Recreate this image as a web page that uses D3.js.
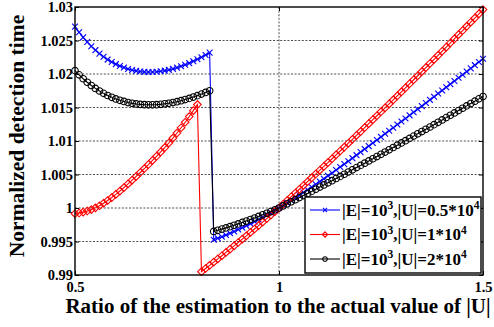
<!DOCTYPE html>
<html>
<head>
<meta charset="utf-8">
<script src="https://cdn.jsdelivr.net/npm/d3@7"></script>
<style>
  body { margin: 0; background: #fff; }
  svg { display: block; }
  text { font-family: "Liberation Serif", "Times New Roman", serif; font-weight: bold; fill: #000; }
</style>
</head>
<body>
<svg id="chart" width="494" height="327"></svg>
<script>
// ratio of estimated |U| to actual |U|
const ratios = [
  0.50, 0.51, 0.52, 0.53, 0.54, 0.55, 0.56, 0.57, 0.58, 0.59,
  0.60, 0.61, 0.62, 0.63, 0.64, 0.65, 0.66, 0.67, 0.68, 0.69,
  0.70, 0.71, 0.72, 0.73, 0.74, 0.75, 0.76, 0.77, 0.78, 0.79,
  0.80, 0.81, 0.82, 0.83, 0.84, 0.85, 0.86, 0.87, 0.88, 0.89,
  0.90, 0.91, 0.92, 0.93, 0.94, 0.95, 0.96, 0.97, 0.98, 0.99,
  1.00, 1.01, 1.02, 1.03, 1.04, 1.05, 1.06, 1.07, 1.08, 1.09,
  1.10, 1.11, 1.12, 1.13, 1.14, 1.15, 1.16, 1.17, 1.18, 1.19,
  1.20, 1.21, 1.22, 1.23, 1.24, 1.25, 1.26, 1.27, 1.28, 1.29,
  1.30, 1.31, 1.32, 1.33, 1.34, 1.35, 1.36, 1.37, 1.38, 1.39,
  1.40, 1.41, 1.42, 1.43, 1.44, 1.45, 1.46, 1.47, 1.48, 1.49,
  1.50
]

// |U| = 0.5*10^4
const timeU05 = [
  1.02707, 1.02623, 1.02547, 1.02477, 1.02413, 1.02356, 1.02304, 1.02257, 1.02215, 1.02179,
  1.02147, 1.02119, 1.02096, 1.02075, 1.02059, 1.02047, 1.02038, 1.02032, 1.02030, 1.02030,
  1.02033, 1.02040, 1.02050, 1.02062, 1.02077, 1.02095, 1.02115, 1.02138, 1.02162, 1.02190,
  1.02219, 1.02250, 1.02284, 1.02319, 0.99525, 0.99548, 0.99572, 0.99597, 0.99623, 0.99650,
  0.99678, 0.99707, 0.99736, 0.99766, 0.99797, 0.99829, 0.99862, 0.99895, 0.99929, 0.99964,
  1.00000, 1.00037, 1.00075, 1.00113, 1.00152, 1.00191, 1.00231, 1.00271, 1.00312, 1.00353,
  1.00395, 1.00437, 1.00480, 1.00523, 1.00567, 1.00611, 1.00655, 1.00699, 1.00744, 1.00789,
  1.00834, 1.00879, 1.00924, 1.00969, 1.01015, 1.01061, 1.01107, 1.01153, 1.01199, 1.01245,
  1.01291, 1.01337, 1.01383, 1.01429, 1.01475, 1.01521, 1.01567, 1.01614, 1.01661, 1.01708,
  1.01755, 1.01802, 1.01849, 1.01896, 1.01943, 1.01990, 1.02037, 1.02084, 1.02132, 1.02180,
  1.02228
]

// |U| = 1*10^4
const timeU1 = [
  0.99915, 0.99925, 0.99938, 0.99955, 0.99976, 1.00002, 1.00034, 1.00071, 1.00112, 1.00156,
  1.00203, 1.00253, 1.00305, 1.00359, 1.00415, 1.00472, 1.00530, 1.00589, 1.00649, 1.00710,
  1.00772, 1.00836, 1.00902, 1.00970, 1.01043, 1.01119, 1.01198, 1.01280, 1.01365, 1.01453,
  1.01544, 0.99050, 0.99097, 0.99144, 0.99192, 0.99240, 0.99288, 0.99337, 0.99386, 0.99435,
  0.99485, 0.99535, 0.99585, 0.99636, 0.99687, 0.99738, 0.99790, 0.99842, 0.99894, 0.99947,
  1.00000, 1.00056, 1.00112, 1.00168, 1.00224, 1.00280, 1.00336, 1.00393, 1.00450, 1.00507,
  1.00564, 1.00621, 1.00678, 1.00735, 1.00793, 1.00851, 1.00909, 1.00967, 1.01025, 1.01083,
  1.01141, 1.01200, 1.01259, 1.01318, 1.01377, 1.01436, 1.01495, 1.01554, 1.01614, 1.01674,
  1.01734, 1.01794, 1.01854, 1.01914, 1.01974, 1.02035, 1.02096, 1.02157, 1.02218, 1.02279,
  1.02340, 1.02401, 1.02463, 1.02525, 1.02587, 1.02649, 1.02711, 1.02773, 1.02835, 1.02898,
  1.02961
]

// |U| = 2*10^4
const timeU2 = [
  1.02050, 1.01987, 1.01929, 1.01877, 1.01828, 1.01785, 1.01746, 1.01711, 1.01679, 1.01652,
  1.01628, 1.01607, 1.01590, 1.01574, 1.01562, 1.01553, 1.01546, 1.01542, 1.01540, 1.01540,
  1.01542, 1.01547, 1.01555, 1.01563, 1.01574, 1.01587, 1.01602, 1.01619, 1.01636, 1.01656,
  1.01677, 1.01700, 1.01725, 1.01750, 0.99650, 0.99667, 0.99685, 0.99703, 0.99722, 0.99742,
  0.99763, 0.99784, 0.99805, 0.99827, 0.99850, 0.99874, 0.99898, 0.99922, 0.99947, 0.99973,
  1.00000, 1.00031, 1.00062, 1.00093, 1.00124, 1.00155, 1.00186, 1.00217, 1.00248, 1.00280,
  1.00312, 1.00344, 1.00376, 1.00408, 1.00440, 1.00472, 1.00504, 1.00537, 1.00570, 1.00603,
  1.00636, 1.00669, 1.00702, 1.00735, 1.00768, 1.00801, 1.00835, 1.00869, 1.00903, 1.00937,
  1.00971, 1.01005, 1.01039, 1.01073, 1.01107, 1.01141, 1.01175, 1.01209, 1.01244, 1.01279,
  1.01314, 1.01349, 1.01384, 1.01419, 1.01454, 1.01489, 1.01524, 1.01559, 1.01594, 1.01629,
  1.01664
]

const legendLabels = ['|E|=10^3,|U|=0.5*10^4', '|E|=10^3,|U|=1*10^4', '|E|=10^3,|U|=2*10^4']
const xTicks = [0.5, 1, 1.5]
const xTickLabels = ['0.5', '1', '1.5']
const yTicks = [0.99, 0.995, 1, 1.005, 1.01, 1.015, 1.02, 1.025, 1.03]
const yTickLabels = ['0.99', '0.995', '1', '1.005', '1.01', '1.015', '1.02', '1.025', '1.03']

const series = [
  { values: timeU05, color: '#0000ff', marker: 'x' },
  { values: timeU1, color: '#ff0000', marker: 'diamond' },
  { values: timeU2, color: '#000000', marker: 'circle' }
]

const markerPath = {
  x: s => `M${-s},${-s}L${s},${s}M${-s},${s}L${s},${-s}`,
  diamond: s => `M0,${-s}L${s},0L0,${s}L${-s},0Z`,
  circle: s => `M${s},0A${s},${s} 0 1,1 ${-s},0A${s},${s} 0 1,1 ${s},0Z`
}
const markerSize = { x: 2.9, diamond: 3.8, circle: 3.3 }

const svg = d3.select('#chart')
const plotL = 75, plotR = 483, plotT = 7, plotB = 275

const x = d3.scaleLinear().domain([0.5, 1.5]).range([plotL, plotR])
const y = d3.scaleLinear().domain([0.99, 1.03]).range([plotB, plotT])

// grid (dotted, inner ticks only)
const grid = svg.append('g').attr('stroke', '#222').attr('stroke-width', 0.8).attr('stroke-dasharray', '2,1.6')
grid.selectAll('line.gy')
  .data(yTicks.slice(1, -1))
  .enter().append('line')
  .attr('x1', plotL).attr('x2', plotR)
  .attr('y1', d => y(d)).attr('y2', d => y(d))
grid.selectAll('line.gx')
  .data(xTicks.slice(1, -1))
  .enter().append('line')
  .attr('x1', d => x(d)).attr('x2', d => x(d))
  .attr('y1', plotT).attr('y2', plotB)

// axes with inward ticks on all four sides
const yFmt = d => yTickLabels[yTicks.indexOf(d)]
const xFmt = d => xTickLabels[xTicks.indexOf(d)]

function styleAxis(g) {
  g.select('.domain').remove()
  g.selectAll('line').attr('stroke', '#000').attr('stroke-width', 1)
  g.attr('font-family', null)
}

svg.append('g').attr('transform', `translate(${plotL},0)`)
  .call(d3.axisLeft(y).tickValues(yTicks).tickFormat(yFmt).tickSize(-4).tickPadding(2))
  .call(styleAxis)
  .selectAll('text').style('font-size', '14.5px')
svg.append('g').attr('transform', `translate(${plotR},0)`)
  .call(d3.axisRight(y).tickValues(yTicks).tickFormat('').tickSize(-4))
  .call(styleAxis)
svg.append('g').attr('transform', `translate(0,${plotB})`)
  .call(d3.axisBottom(x).tickValues(xTicks).tickFormat(xFmt).tickSize(-4).tickPadding(7))
  .call(styleAxis)
  .selectAll('text').style('font-size', '14.5px')
svg.append('g').attr('transform', `translate(0,${plotT})`)
  .call(d3.axisTop(x).tickValues(xTicks).tickFormat('').tickSize(-4))
  .call(styleAxis)

// curves
const line = d3.line().x((d, i) => x(ratios[i])).y(d => y(d))

series.forEach(s => {
  const g = svg.append('g')
  g.append('path')
    .datum(s.values)
    .attr('d', line)
    .attr('fill', 'none')
    .attr('stroke', s.color)
    .attr('stroke-width', 1.1)
  g.selectAll('path.m')
    .data(s.values)
    .enter().append('path')
    .attr('class', 'm')
    .attr('transform', (d, i) => `translate(${x(ratios[i])},${y(d)})`)
    .attr('d', markerPath[s.marker](markerSize[s.marker]))
    .attr('fill', 'none')
    .attr('stroke', s.color)
    .attr('stroke-width', 1.1)
})

// frame
svg.append('rect')
  .attr('x', plotL).attr('y', plotT)
  .attr('width', plotR - plotL).attr('height', plotB - plotT)
  .attr('fill', 'none').attr('stroke', '#000').attr('stroke-width', 1.4)

// axis titles
svg.append('text')
  .attr('x', 278).attr('y', 313)
  .attr('text-anchor', 'middle')
  .style('font-size', '21px')
  .text('Ratio of the estimation to the actual value of |U|')
svg.append('text')
  .attr('transform', 'translate(24,136) rotate(-90)')
  .attr('text-anchor', 'middle')
  .style('font-size', '21.5px')
  .text('Normalized detection time')

// legend
const legend = svg.append('g').attr('transform', 'translate(305,197)')
legend.append('rect')
  .attr('width', 176).attr('height', 76)
  .attr('fill', '#fff').attr('stroke', '#000').attr('stroke-width', 1.4)

legendLabels.forEach((label, i) => {
  const s = series[i]
  const row = legend.append('g').attr('transform', `translate(0,${13 + i * 24.5})`)
  row.append('line')
    .attr('x1', 5).attr('x2', 35)
    .attr('stroke', s.color).attr('stroke-width', 1.1)
  row.append('path')
    .attr('transform', 'translate(20,0)')
    .attr('d', markerPath[s.marker](markerSize[s.marker] * 0.7))
    .attr('fill', 'none').attr('stroke', s.color).attr('stroke-width', 1.1)

  const t = row.append('text').attr('x', 37).attr('y', 5.5).style('font-size', '17px')
  // split on ^ : the character right after it is a superscript
  const parts = label.split('^')
  parts.forEach((p, k) => {
    if (k === 0) {
      t.append('tspan').text(p)
    } else {
      t.append('tspan').attr('dy', -6.5).style('font-size', '11.5px').text(p[0])
      t.append('tspan').attr('dy', 6.5).text(p.slice(1))
    }
  })
})
</script>
</body>
</html>
